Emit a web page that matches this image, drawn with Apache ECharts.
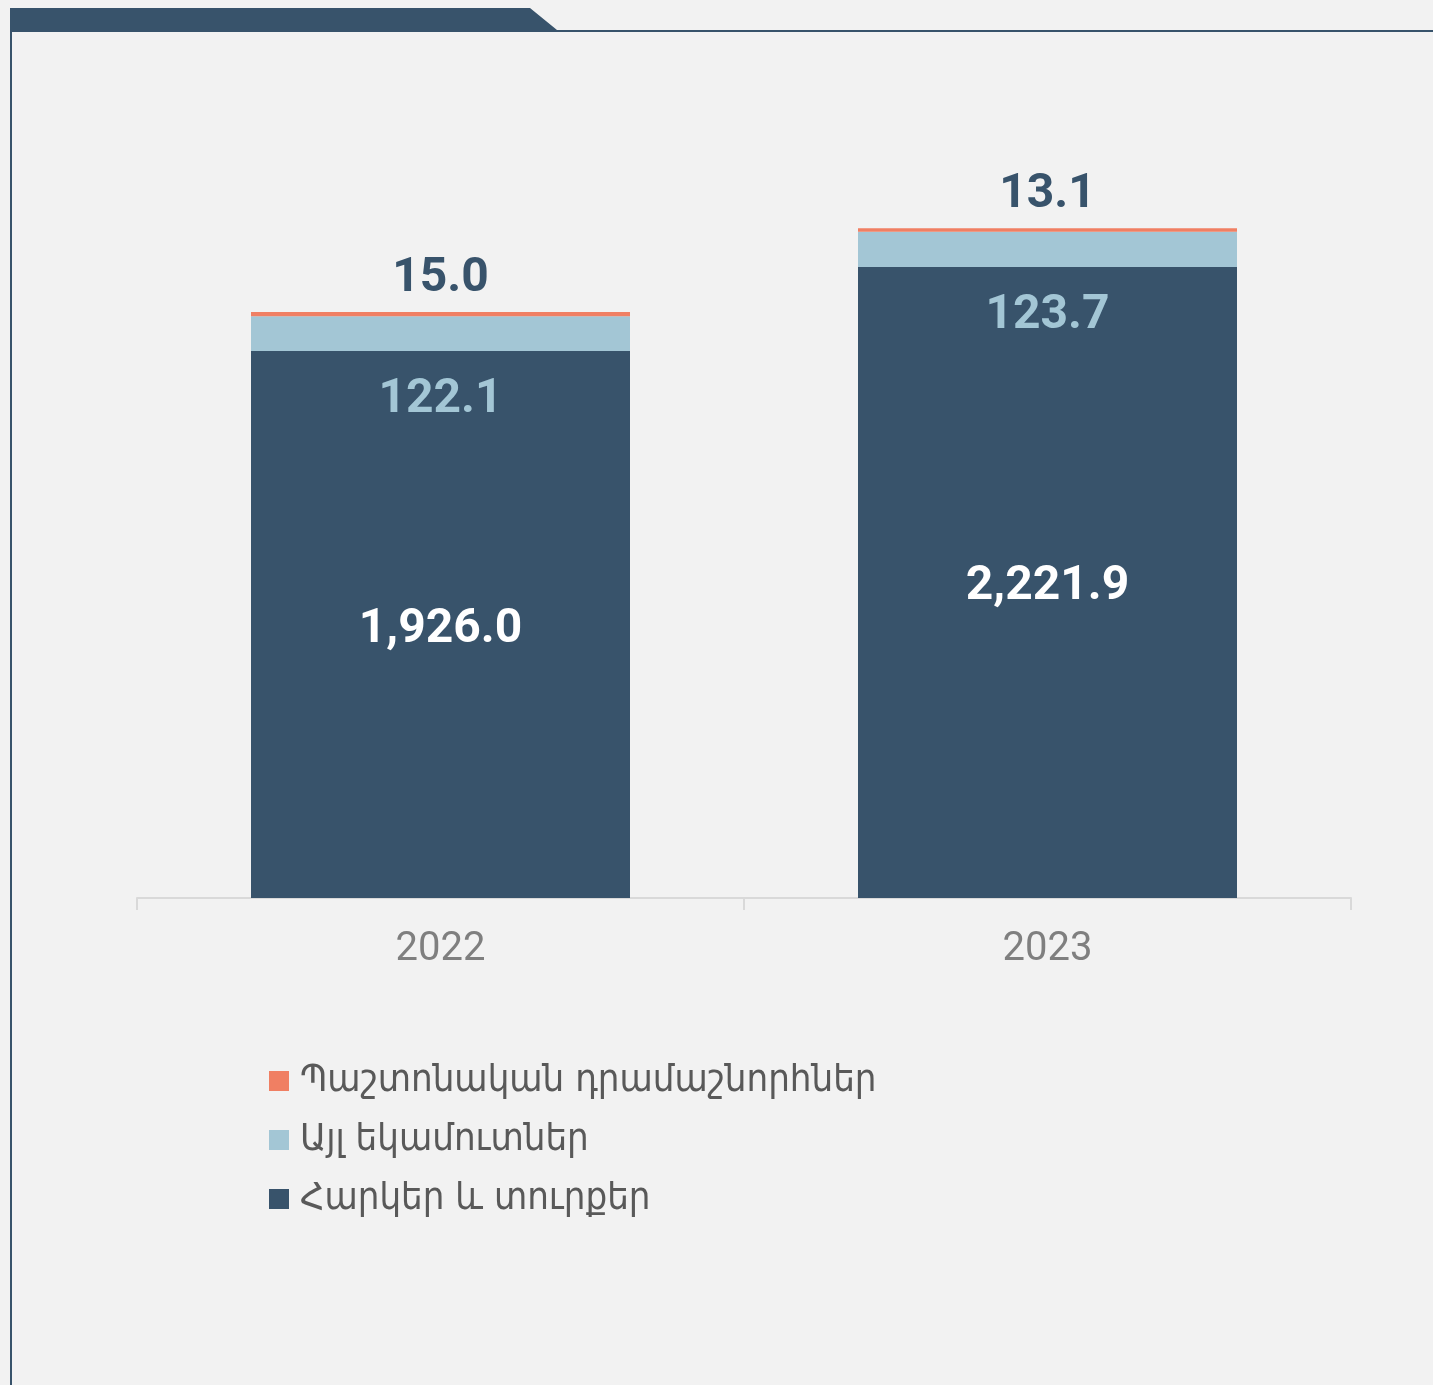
<!DOCTYPE html>
<html>
<head>
<meta charset="utf-8">
<script src="https://cdn.jsdelivr.net/npm/echarts@6/dist/echarts.min.js"></script>
<style>
  html, body { margin: 0; padding: 0; background: #f2f2f2; }
  #chart { width: 1433px; height: 1385px; }
</style>
</head>
<body>
<div id="chart"></div>
<script>
"use strict";
/* stacked bars: taxes & duties / other revenue / official grants */
const years = ["2022", "2023"];
const taxes = [1926.0, 2221.9];
const other = [122.1, 123.7];
const grants = [15.0, 13.1];
const names = ["Հարկեր և տուրքեր", "Այլ եկամուտներ", "Պաշտոնական դրամաշնորհներ"];

const NAVY = "#38536b", LIGHT = "#a3c6d5", ORANGE = "#f07f63";
const fmt = (v) => v.toLocaleString("en-US", {minimumFractionDigits: 1, maximumFractionDigits: 1});
const numFont = {fontFamily: "Roboto", fontWeight: "bold", fontSize: 48};

const chart = echarts.init(document.getElementById("chart"));
chart.setOption({
  backgroundColor: "#f2f2f2",
  animation: false,
  graphic: [
    {type: "polygon", shape: {points: [[10, 8], [530, 8], [557, 30], [1433, 30], [1433, 32], [10, 32]]},
      style: {fill: NAVY}},
    {type: "rect", shape: {x: 10, y: 8, width: 2, height: 1377}, style: {fill: NAVY}},
  ],
  grid: {left: 137, right: 82, top: 188, bottom: 487},
  legend: {
    orient: "vertical", left: 269, top: 1062, padding: 0, itemWidth: 20, itemHeight: 20, itemGap: 21,
    icon: "rect", data: [names[2], names[1], names[0]],
    textStyle: {fontFamily: "DejaVu Sans Condensed", fontSize: 38, color: "#595959", padding: [0, 0, 0, 6]},
  },
  xAxis: {
    type: "category", data: years,
    axisLine: {lineStyle: {color: "#d9d9d9", width: 2}},
    axisTick: {show: true, length: 12, lineStyle: {color: "#d9d9d9", width: 2}},
    axisLabel: {fontFamily: "Roboto", fontSize: 40, color: "#7f7f7f", margin: 32},
  },
  yAxis: {type: "value", min: 0, max: 2500, show: false, splitLine: {show: false}},
  series: [
    {name: names[0], type: "bar", stack: "t", data: taxes, barWidth: 379,
      itemStyle: {color: NAVY},
      label: {show: true, position: "inside", offset: [0, 5], color: "#ffffff", ...numFont, formatter: (p) => fmt(p.value)}},
    {name: names[1], type: "bar", stack: "t", data: other,
      itemStyle: {color: LIGHT},
      label: {show: true, position: "bottom", distance: 25, color: LIGHT, ...numFont, formatter: (p) => fmt(p.value)}},
    {name: names[2], type: "bar", stack: "t", data: grants,
      itemStyle: {color: ORANGE},
      label: {show: true, position: "top", distance: 9, color: NAVY, ...numFont, formatter: (p) => fmt(p.value)}},
  ],
});
</script>
</body>
</html>
